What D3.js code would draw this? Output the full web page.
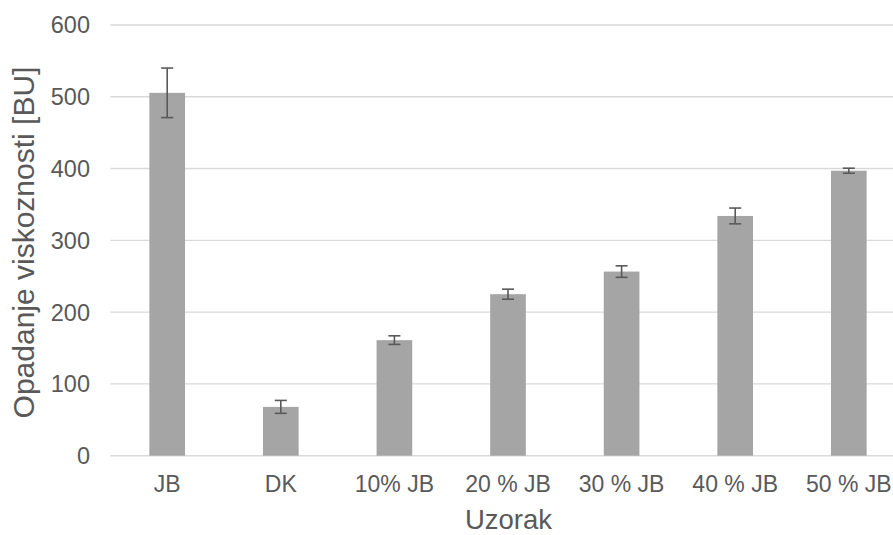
<!DOCTYPE html>
<html>
<head>
<meta charset="utf-8">
<script src="https://cdn.jsdelivr.net/npm/d3@7"></script>
<style>
  html, body { margin: 0; padding: 0; background: #fff; }
  svg { display: block; font-family: "Liberation Sans", Arial, sans-serif; }
</style>
</head>
<body>
<svg id="chart" width="893" height="535"></svg>
<script>
const categories = ["JB", "DK", "10% JB", "20 % JB", "30 % JB", "40 % JB", "50 % JB"];
const values = [505.5, 68, 161, 225, 256.5, 334, 397];
const errors = [34.5, 9, 6, 7, 8, 11, 3.5];
const yTicks = [0, 100, 200, 300, 400, 500, 600];
const yTitle = "Opadanje viskoznosti [BU]";
const xTitle = "Uzorak";

const svg = d3.select("#chart");
const plot = { left: 110.4, right: 905.6, top: 25, bottom: 455.7 };

const x = d3.scaleBand().domain(categories)
  .range([plot.left, plot.right]).paddingInner(0.686).paddingOuter(0.343);
const y = d3.scaleLinear().domain([0, 600]).range([plot.bottom, plot.top]);

// gridlines
svg.append("g").selectAll("line").data(yTicks).join("line")
  .attr("x1", plot.left).attr("x2", plot.right)
  .attr("y1", d => y(d)).attr("y2", d => y(d))
  .attr("stroke", "#d9d9d9").attr("stroke-width", 1.4);

// y tick labels
svg.append("g").selectAll("text").data(yTicks).join("text")
  .attr("x", 90).attr("y", d => y(d)).attr("dy", "0.36em")
  .attr("text-anchor", "end").attr("fill", "#595959")
  .attr("font-size", "23.5px").text(d => d);

// bars
svg.append("g").selectAll("rect").data(categories).join("rect")
  .attr("x", d => x(d)).attr("width", x.bandwidth())
  .attr("y", (d, i) => y(values[i]))
  .attr("height", (d, i) => y(0) - y(values[i]))
  .attr("fill", "#a5a5a5");

// error bars
const eg = svg.append("g").attr("stroke", "#595959").attr("stroke-width", 1.6);
categories.forEach((c, i) => {
  const cx = x(c) + x.bandwidth() / 2;
  const hi = y(values[i] + errors[i]), lo = y(values[i] - errors[i]);
  eg.append("line").attr("x1", cx).attr("x2", cx).attr("y1", hi).attr("y2", lo);
  eg.append("line").attr("x1", cx - 6).attr("x2", cx + 6).attr("y1", hi).attr("y2", hi);
  eg.append("line").attr("x1", cx - 6).attr("x2", cx + 6).attr("y1", lo).attr("y2", lo);
});

// x tick labels
svg.append("g").selectAll("text").data(categories).join("text")
  .attr("x", d => x(d) + x.bandwidth() / 2).attr("y", 491.7)
  .attr("text-anchor", "middle").attr("fill", "#595959")
  .attr("font-size", "23px").text(d => d);

// axis titles
svg.append("text").attr("x", (plot.left + plot.right) / 2 + 0.5).attr("y", 529.3)
  .attr("text-anchor", "middle").attr("fill", "#595959")
  .attr("font-size", "27.5px").text(xTitle);

svg.append("text")
  .attr("transform", `translate(34, 242.5) rotate(-90)`)
  .attr("text-anchor", "middle").attr("fill", "#595959")
  .attr("font-size", "30px").text(yTitle);
</script>
</body>
</html>
